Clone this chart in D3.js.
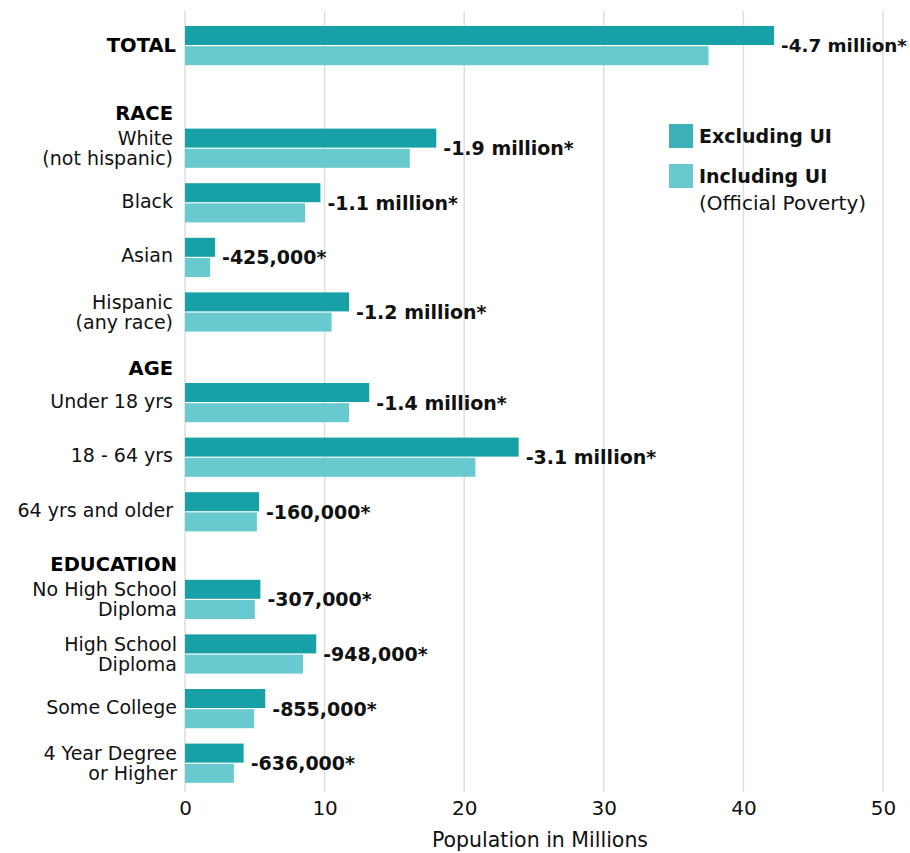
<!DOCTYPE html>
<html><head><meta charset="utf-8">
<script src="https://cdn.jsdelivr.net/npm/d3@7"></script>
<style>
body{margin:0;background:#fff;}
text{font-family:"DejaVu Sans","Noto Sans",sans-serif;}
</style></head>
<body><svg id="chart" width="910" height="853"></svg>
<script>
// ---- data ----
const sections = ["TOTAL", "RACE", "AGE", "EDUCATION"];
const categories = [
  {sec:0, label:["TOTAL"]},
  {sec:1, label:["White","(not hispanic)"]},
  {sec:1, label:["Black"]},
  {sec:1, label:["Asian"]},
  {sec:1, label:["Hispanic","(any race)"]},
  {sec:2, label:["Under 18 yrs"]},
  {sec:2, label:["18 - 64 yrs"]},
  {sec:2, label:["64 yrs and older"]},
  {sec:3, label:["No High School","Diploma"]},
  {sec:3, label:["High School","Diploma"]},
  {sec:3, label:["Some College"]},
  {sec:3, label:["4 Year Degree","or Higher"]}
];
const excludingUI = [42.2, 18.0, 9.7, 2.15, 11.75, 13.2, 23.9, 5.3, 5.4, 9.4, 5.75, 4.2];
const includingUI = [37.5, 16.1, 8.6, 1.8, 10.5, 11.75, 20.8, 5.15, 5.0, 8.45, 4.95, 3.5];
const diffLabels = ["-4.7 million*","-1.9 million*","-1.1 million*","-425,000*","-1.2 million*",
  "-1.4 million*","-3.1 million*","-160,000*","-307,000*","-948,000*","-855,000*","-636,000*"];
const xTicks = [0, 10, 20, 30, 40, 50];
const seriesNames = ["Excluding UI", "Including UI"];
const axisTitle = "Population in Millions";
const legendNote = "(Official Poverty)";

// ---- layout ----
const FONT = '"DejaVu Sans","Noto Sans",sans-serif';
const W = 910;
const colExcl = "#17a0a6", colIncl = "#68c9ce", colLegExcl = "#3db1b7";
const svg = d3.select("#chart");
const x = d3.scaleLinear().domain([0, 50]).range([185, 883]);
const barH = 19, barGap = 1.2, rowStep = 54.6, top0 = 26;
const sectionGaps = [0, 48, 36, 33];
function groupTop(i){
  const s = categories[i].sec;
  let g = 0; for(let k=1;k<=s;k++) g += sectionGaps[k];
  return top0 + i*rowStep + g;
}
const labelX = [176, 173, 173, 177];
const fsLabel = 19, fsValue = 19, fsHead = 19.5;

// grid
svg.append("g").selectAll("line").data(xTicks).join("line")
  .attr("x1", d=>x(d)).attr("x2", d=>x(d)).attr("y1", 11).attr("y2", 792)
  .attr("stroke", "#dedede").attr("stroke-width", 1.5);

// axis
const axis = d3.axisBottom(x).tickValues(xTicks).tickSize(0).tickPadding(0);
const ag = svg.append("g").attr("transform","translate(0,801)").call(axis);
ag.select(".domain").remove();
ag.selectAll("text").attr("font-size", 20).attr("fill","#111").attr("dy","0.71em")
  .style("font-family", FONT);
svg.append("text").attr("x", 540).attr("y", 840).attr("text-anchor","middle")
  .attr("dominant-baseline","central").attr("font-size",20.5)
  .attr("fill","#111").text(axisTitle);

// bars
const g = svg.append("g");
categories.forEach((c,i)=>{
  const t = groupTop(i);
  g.append("rect").attr("x", x(0)).attr("y", t).attr("width", x(excludingUI[i])-x(0))
    .attr("height", barH).attr("fill", colExcl);
  g.append("rect").attr("x", x(0)).attr("y", t+barH+barGap).attr("width", x(includingUI[i])-x(0))
    .attr("height", barH).attr("fill", colIncl);
  const mid = t + barH + barGap/2;
  const mx = Math.max(excludingUI[i], includingUI[i]);
  const vx = x(mx)+7;
  const vt = g.append("text").attr("x", vx).attr("y", mid).attr("dominant-baseline","central")
    .attr("font-size",fsValue).attr("font-weight",700).attr("fill","#111").text(diffLabels[i]);
  const len = vt.node().getComputedTextLength();
  if (vx + len > W - 3) vt.attr("font-size", fsValue * (W - 3 - vx) / len);
  // category label
  const isHeader = i===0;
  const lines = c.label;
  const lh = 20;
  lines.forEach((ln,j)=>{
    g.append("text").attr("x", labelX[c.sec]).attr("y", mid - (lines.length-1)*lh/2 + j*lh - (lines.length===1 && !isHeader ? 2 : 0))
      .attr("text-anchor","end").attr("dominant-baseline","central")
      .attr("font-size", isHeader?fsHead:fsLabel).attr("font-weight", isHeader?700:400)
      .attr("fill", isHeader?"#000":"#111").text(ln);
  });
});
// section headers
sections.forEach((s,k)=>{
  if(k===0) return;
  const first = categories.findIndex(c=>c.sec===k);
  svg.append("text").attr("x", labelX[k]).attr("y", groupTop(first)-15)
    .attr("text-anchor","end").attr("dominant-baseline","central")
    .attr("font-size",fsHead).attr("font-weight",700).attr("fill","#000").text(s);
});

// legend
const leg = svg.append("g");
[colLegExcl, colIncl].forEach((col,k)=>{
  leg.append("rect").attr("x",669).attr("y",124+k*40).attr("width",24).attr("height",24).attr("fill",col);
  leg.append("text").attr("x",699).attr("y",136+k*40).attr("dominant-baseline","central")
    .attr("font-size",19).attr("font-weight",700).attr("fill","#111").text(seriesNames[k]);
});
leg.append("text").attr("x",699).attr("y",203).attr("dominant-baseline","central")
  .attr("font-size",20).attr("font-weight",400).attr("fill","#111").text(legendNote);
</script></body></html>
